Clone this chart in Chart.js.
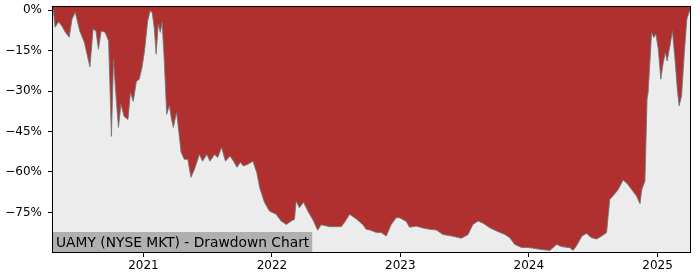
<!DOCTYPE html>
<html>
<head>
<meta charset="utf-8">
<script src="https://cdn.jsdelivr.net/npm/chart.js@4"></script>
<style>
html,body{margin:0;padding:0;background:#fff;}
#wrap{width:700px;height:280px;position:relative;}
</style>
</head>
<body>
<div id="wrap"><canvas id="c"></canvas></div>
<script>
const dates = [
"2020-04-19","2020-04-21","2020-04-25","2020-05-05","2020-05-15","2020-05-24","2020-06-04","2020-06-12","2020-06-21","2020-07-04",
"2020-07-17","2020-08-02","2020-08-11","2020-08-19","2020-08-26","2020-09-03","2020-09-14","2020-09-24","2020-10-02","2020-10-08",
"2020-10-15","2020-10-22","2020-10-29","2020-11-07","2020-11-18","2020-11-25","2020-12-03","2020-12-12","2020-12-20","2020-12-28",
"2021-01-04","2021-01-13","2021-01-20","2021-01-26","2021-02-01","2021-02-06","2021-02-12","2021-02-18","2021-02-23","2021-03-01",
"2021-03-08","2021-03-16","2021-03-21","2021-03-27","2021-04-05","2021-04-11","2021-04-18","2021-04-27","2021-05-07","2021-05-16",
"2021-05-26","2021-06-09","2021-06-18","2021-06-30","2021-07-09","2021-07-22","2021-07-31","2021-08-11","2021-08-22","2021-09-04",
"2021-09-14","2021-09-24","2021-10-03","2021-10-12","2021-10-24","2021-11-08","2021-11-19","2021-11-27","2021-12-11","2021-12-25",
"2022-01-13","2022-01-27","2022-02-11","2022-02-25","2022-03-06","2022-03-11","2022-03-20","2022-04-01","2022-04-13","2022-04-27",
"2022-05-11","2022-05-21","2022-06-14","2022-07-17","2022-07-26","2022-08-10","2022-08-29","2022-09-16","2022-09-26","2022-10-06",
"2022-10-25","2022-11-08","2022-11-22","2022-12-06","2022-12-20","2022-12-30","2023-01-18","2023-01-27","2023-02-15","2023-03-06",
"2023-03-25","2023-04-13","2023-05-02","2023-05-31","2023-06-23","2023-07-12","2023-07-26","2023-08-10","2023-08-24","2023-09-12",
"2023-10-01","2023-10-25","2023-11-08","2023-11-22","2023-12-11","2024-01-04","2024-02-06","2024-03-01","2024-03-20","2024-04-03",
"2024-04-27","2024-05-06","2024-05-16","2024-05-31","2024-06-13","2024-06-27","2024-07-12","2024-07-26","2024-08-09","2024-08-18",
"2024-09-02","2024-09-11","2024-09-25","2024-10-07","2024-10-19","2024-11-02","2024-11-12","2024-11-17","2024-11-26","2024-12-02",
"2024-12-05","2024-12-15","2024-12-21","2024-12-27","2025-01-03","2025-01-10","2025-01-17","2025-01-23","2025-01-28","2025-02-05",
"2025-02-12","2025-02-19","2025-02-26","2025-03-03","2025-03-10","2025-03-18","2025-03-25","2025-03-31","2025-04-03"
];
const drawdown = [
0,-1.5,-6.3,-4.3,-6,-8.2,-10,-3.3,-0.7,-7.7,
-11.9,-21,-7,-7.7,-14.5,-7.7,-8.2,-11.4,-46.8,-18.2,
-31.9,-43.5,-34.9,-39.4,-40.5,-30.5,-33.8,-26.4,-25.6,-21.2,
-15.2,-4,-0.2,-0.9,-7,-16.3,-5.2,-8.2,-4.5,-18.2,
-38.6,-35.3,-40,-43.5,-37.9,-44.5,-52.7,-55.3,-55.3,-62,
-59,-53.5,-56,-53.5,-56,-53.5,-54.6,-50.9,-56,-54.1,
-56,-58.3,-56.4,-57.8,-57.2,-56,-60.2,-65.7,-71.3,-74.5,
-75.7,-78.2,-79.5,-78.2,-77.6,-70.8,-73.3,-71.2,-74.5,-77.6,
-81.6,-79.6,-80.3,-80.3,-78.8,-75.7,-77.5,-79.5,-81.3,-81.5,
-82.5,-82.5,-83.8,-79.5,-77,-77,-78.4,-80.5,-80.1,-80.8,
-81.3,-81.5,-83.2,-83.9,-84.6,-83.3,-79.5,-78.2,-79,-80.7,
-81.9,-83.2,-84.4,-86.9,-88,-88.1,-88.8,-89.1,-86.9,-87.7,
-88.1,-89.1,-87.3,-83.8,-82.8,-84.4,-84.9,-83.8,-82.5,-70.2,
-68,-66.5,-63,-64.4,-66.5,-68.9,-71.8,-66.5,-63.4,-33,
-30.6,-8.3,-10.1,-8.9,-14.5,-25.6,-19.4,-15.7,-18.8,-13.3,
-7.7,-17.6,-29.3,-35.5,-31.8,-15.7,-3.3,-0.9,0
];
const yearTicks = [2021, 2022, 2023, 2024, 2025];
const pctTicks = [0, -15, -30, -45, -60, -75];
const titleText = "UAMY (NYSE MKT) - Drawdown Chart";

const points = dates.map((d, i) => ({x: Date.parse(d), y: drawdown[i]}));
const FONT = "DejaVu Sans";

const bgPlugin = {
  id: 'bgPlugin',
  beforeDatasetsDraw(chart) {
    const {ctx, chartArea: a} = chart;
    ctx.save();
    ctx.fillStyle = '#ececec';
    ctx.fillRect(a.left, a.top, a.right - a.left, a.bottom - a.top);
    ctx.restore();
  },
  afterDraw(chart) {
    const {ctx, chartArea: a} = chart;
    ctx.save();
    ctx.font = '13.8px "' + FONT + '"';
    const w = ctx.measureText(titleText).width;
    ctx.fillStyle = '#b0b0b0';
    ctx.fillRect(a.left, a.bottom - 20, w + 6, 20);
    ctx.fillStyle = '#000';
    ctx.textBaseline = 'alphabetic';
    ctx.textAlign = 'left';
    ctx.fillText(titleText, a.left + 3, a.bottom - 5);
    ctx.strokeStyle = '#000';
    ctx.lineWidth = 1;
    ctx.strokeRect(Math.round(a.left) - 0.5, Math.round(a.top) - 0.5, Math.round(a.right - a.left) + 1, Math.round(a.bottom - a.top) + 1);
    ctx.restore();
  }
};

new Chart(document.getElementById('c'), {
  type: 'line',
  data: {
    datasets: [{
      data: points,
      borderColor: 'rgba(110,120,120,0.85)',
      borderWidth: 1,
      backgroundColor: '#b03030',
      fill: 'end',
      pointRadius: 0,
      tension: 0
    }]
  },
  plugins: [bgPlugin],
  options: {
    responsive: true,
    maintainAspectRatio: false,
    animation: false,
    layout: {padding: {top: 7, right: 10, left: 0, bottom: 0}},
    plugins: {legend: {display: false}, tooltip: {enabled: false}},
    scales: {
      x: {
        type: 'linear',
        min: points[0].x,
        max: points[points.length - 1].x,
        afterBuildTicks(scale) {
          scale.ticks = yearTicks.map(y => ({value: Date.UTC(y, 0, 1)}));
        },
        afterFit(scale) { scale.height = 28; scale.paddingLeft = 0; scale.paddingRight = 0; },
        ticks: {
          callback: v => String(new Date(v).getUTCFullYear()),
          color: '#000',
          font: {family: FONT, size: 12},
          padding: 2,
          maxRotation: 0,
          autoSkip: false
        },
        grid: {drawOnChartArea: false, drawTicks: true, tickLength: 5, color: '#000'},
        border: {display: false}
      },
      y: {
        min: -89.7,
        max: 1.2,
        afterBuildTicks(scale) {
          scale.ticks = pctTicks.map(v => ({value: v}));
        },
        afterFit(scale) { scale.width = 53; scale.paddingTop = 0; scale.paddingBottom = 0; },
        ticks: {
          callback: v => v === 0 ? '0%' : '\u2212' + Math.abs(v) + '%',
          color: '#000',
          font: {family: FONT, size: 12},
          padding: 6,
          autoSkip: false
        },
        grid: {drawOnChartArea: false, drawTicks: true, tickLength: 5, color: '#000'},
        border: {display: false}
      }
    }
  }
});
</script>
</body>
</html>
